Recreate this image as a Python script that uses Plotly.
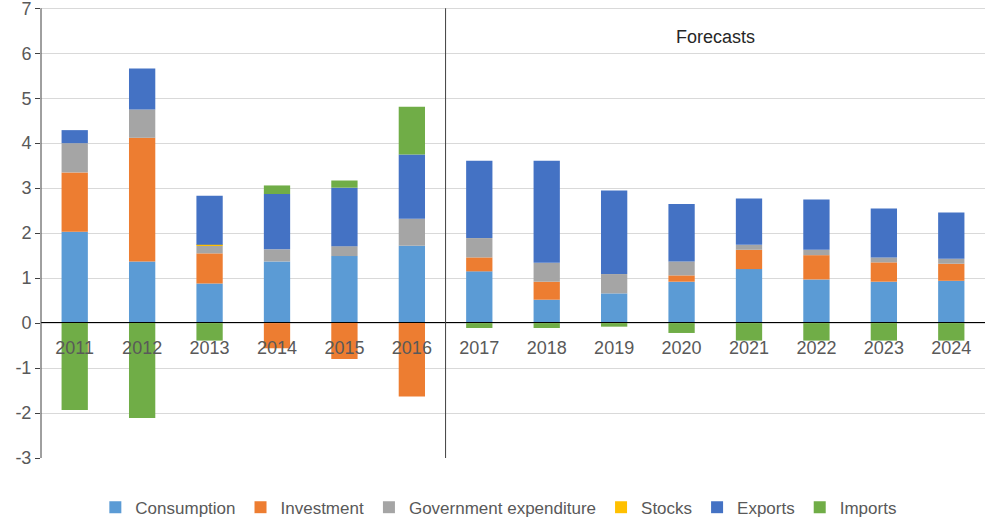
import plotly.graph_objects as go

years = ["2011", "2012", "2013", "2014", "2015", "2016", "2017", "2018",
         "2019", "2020", "2021", "2022", "2023", "2024"]
consumption = [2.03, 1.37, 0.88, 1.37, 1.49, 1.72, 1.15, 0.52, 0.66, 0.92, 1.20, 0.97, 0.92, 0.94]
investment = [1.32, 2.75, 0.67, -0.56, -0.80, -1.63, 0.31, 0.40, 0.00, 0.14, 0.43, 0.54, 0.43, 0.38]
government = [0.65, 0.63, 0.17, 0.27, 0.22, 0.60, 0.43, 0.42, 0.43, 0.31, 0.11, 0.12, 0.11, 0.11]
stocks = [0.0, 0.0, 0.02, 0.0, 0.0, 0.0, 0.0, 0.0, 0.0, 0.0, 0.0, 0.0, 0.0, 0.0]
exports = [0.29, 0.91, 1.09, 1.23, 1.30, 1.43, 1.72, 2.27, 1.86, 1.28, 1.03, 1.12, 1.09, 1.03]
imports = [-1.93, -2.11, -0.39, 0.19, 0.16, 1.06, -0.11, -0.11, -0.08, -0.22, -0.39, -0.39, -0.39, -0.39]
y_ticks = [-3, -2, -1, 0, 1, 2, 3, 4, 5, 6, 7]
y_tick_labels = ["-3", "-2", "-1", "0", "1", "2", "3", "4", "5", "6", "7"]

series = [
    ("Consumption", consumption, "#5B9BD5"),
    ("Investment", investment, "#ED7D31"),
    ("Government expenditure", government, "#A5A5A5"),
    ("Stocks", stocks, "#FFC000"),
    ("Exports", exports, "#4472C4"),
    ("Imports", imports, "#70AD47"),
]

FONT = "Liberation Sans Narrow, Arial Narrow, Liberation Sans, Arial, sans-serif"

fig = go.Figure()
for name, vals, col in series:
    fig.add_trace(go.Bar(x=years, y=vals, name=name, marker=dict(color=col, line=dict(width=0))))

fig.update_layout(
    barmode="relative",
    bargap=0.61,
    width=985, height=519,
    margin=dict(l=41, r=0, t=6, b=61, autoexpand=False),
    plot_bgcolor="white", paper_bgcolor="white",
    font=dict(family=FONT, size=18, color="#595959"),
    legend=dict(orientation="h", x=0.485, xanchor="center", y=-0.07, yanchor="top",
                font=dict(size=17, color="#595959"), itemwidth=30,
                traceorder="normal"),
    showlegend=True,
)
fig.update_yaxes(range=[-3, 7.05], tickvals=y_ticks, ticktext=y_tick_labels, showgrid=True,
                 gridcolor="#D9D9D9", gridwidth=1, automargin=False,
                 ticklabeloverflow="allow",
                 zeroline=False, showline=False,
                 ticks="outside", ticklen=5, tickcolor="#404040",
                 tickfont=dict(size=18, color="#595959"))
fig.update_xaxes(anchor="free", position=0.3, showline=True, linecolor="black", linewidth=1,
                 ticks="", tickfont=dict(size=18, color="#595959"), ticklabelstandoff=9,
                 showgrid=False, zeroline=False, automargin=False)

# left axis line from -3 to 7
fig.add_shape(type="line", xref="paper", yref="y", x0=0, x1=0, y0=-3, y1=7,
              line=dict(color="#404040", width=1))
fig.add_shape(type="line", xref="x", yref="y", x0=5.5, x1=5.5, y0=-3, y1=7,
              line=dict(color="#404040", width=1))
fig.add_annotation(text="Forecasts", xref="x", yref="y", x=9.5, y=6.35, showarrow=False,
                   font=dict(size=18, color="#262626", family=FONT))

fig.write_html("out.html", config={"displayModeBar": False},
               post_script="document.body.style.margin='0';document.body.style.overflow='hidden';")
